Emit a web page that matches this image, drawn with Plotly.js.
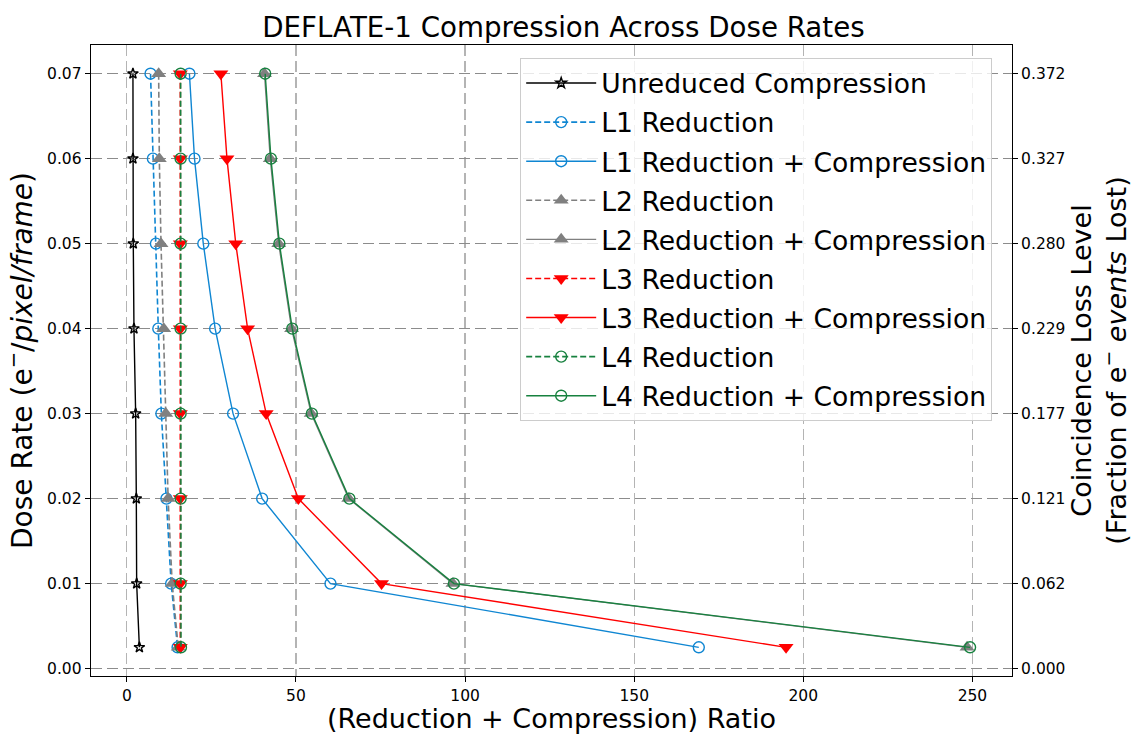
<!DOCTYPE html>
<html>
<head>
<meta charset="utf-8">
<script src="https://cdn.plot.ly/plotly-3.0.1.min.js"></script>
<style>
  html, body { margin: 0; padding: 0; background: #fff; }
  #chart { width: 1132px; height: 734px; }
</style>
</head>
<body>
<div id="chart"></div>
<script>
// Dose rates (e-/pixel/frame)
const doseRates = [0.07, 0.06, 0.05, 0.04, 0.03, 0.02, 0.01, 0.0025];

// Ratios for each scheme at each dose rate
const unreduced      = [1.8, 1.8, 1.9, 2.1, 2.6, 2.8, 2.9, 3.7];
const l1Reduction    = [7.0, 7.7, 8.6, 9.3, 10.2, 11.7, 13.1, 15.0];
const l1ReductionCmp = [18.5, 20.0, 22.6, 26.1, 31.4, 40.0, 60.2, 169.1];
const l2Reduction    = [9.4, 9.6, 10.1, 10.9, 11.5, 12.2, 13.4, 15.2];
const l2ReductionCmp = [40.7, 42.4, 44.9, 48.7, 54.5, 65.6, 96.4, 248.4];
const l3Reduction    = [15.8, 15.8, 15.8, 15.8, 15.8, 15.8, 15.8, 15.8];
const l3ReductionCmp = [27.8, 29.6, 32.2, 35.7, 41.2, 50.7, 75.3, 194.9];
const l4Reduction    = [15.9, 15.9, 15.9, 15.9, 15.9, 15.9, 15.9, 16.0];
const l4ReductionCmp = [40.9, 42.6, 45.1, 48.9, 54.7, 65.8, 96.7, 249.3];

// Left-axis ticks and the matching coincidence loss levels on the right
const doseTicks = [0.00, 0.01, 0.02, 0.03, 0.04, 0.05, 0.06, 0.07];
const doseTickLabels = ['0.00', '0.01', '0.02', '0.03', '0.04', '0.05', '0.06', '0.07'];
const lossTickLabels = ['0.000', '0.062', '0.121', '0.177', '0.229', '0.280', '0.327', '0.372'];
const ratioTicks = [0, 50, 100, 150, 200, 250];

const BLUE = '#0f86d2';
const GRAY = '#808080';
const RED = '#ff0000';
const GREEN = '#17813f';

function series(name, xs, color, dash, symbol, size, group) {
  const open = symbol.indexOf('open') >= 0;
  return {
    type: 'scatter', mode: 'lines+markers', name: name,
    x: xs, y: doseRates,
    legendgroup: group,
    line: { color: color, width: dash === 'solid' ? 1.4 : 1.6, dash: dash },
    // open symbols take their stroke colour from marker.color
    marker: {
      symbol: symbol, size: size, color: color,
      line: { color: color, width: open ? 1.4 : 0 }
    }
  };
}

const DASH = '6px,3px';
const traces = [
  series('Unreduced Compression', unreduced, '#000000', 'solid', 'star-open', 8, 'g1'),
  series('L1 Reduction', l1Reduction, BLUE, DASH, 'circle-open', 11, 'g2'),
  series('L1 Reduction + Compression', l1ReductionCmp, BLUE, 'solid', 'circle-open', 11, 'g3'),
  series('L2 Reduction', l2Reduction, GRAY, DASH, 'triangle-up', 13, 'g4'),
  series('L2 Reduction + Compression', l2ReductionCmp, GRAY, 'solid', 'triangle-up', 13, 'g5'),
  series('L3 Reduction', l3Reduction, RED, DASH, 'triangle-down', 13, 'g6'),
  series('L3 Reduction + Compression', l3ReductionCmp, RED, 'solid', 'triangle-down', 13, 'g7'),
  series('L4 Reduction', l4Reduction, GREEN, DASH, 'circle-open', 11, 'g8'),
  series('L4 Reduction + Compression', l4ReductionCmp, GREEN, 'solid', 'circle-open', 11, 'g9')
];

// Invisible companion trace so the right-hand axis is drawn
traces.push({
  type: 'scatter', mode: 'markers', x: [unreduced[0]], y: [doseRates[0]],
  yaxis: 'y2', showlegend: false, hoverinfo: 'skip',
  marker: { opacity: 0 }
});

const FONT = 'DejaVu Sans, sans-serif';
const yRange = [-0.000875, 0.073375];

const layout = {
  width: 1132, height: 734,
  paper_bgcolor: '#ffffff', plot_bgcolor: '#ffffff',
  font: { family: FONT, color: '#000' },
  margin: { l: 91, r: 120, t: 45, b: 58 },
  title: {
    text: 'DEFLATE-1 Compression Across Dose Rates',
    font: { family: FONT, size: 27.7, color: '#000' },
    xref: 'paper', x: 0.513, xanchor: 'center',
    yref: 'container', y: 0.963, yanchor: 'middle'
  },
  xaxis: {
    range: [-10.6, 261.7],
    tickvals: ratioTicks,
    ticks: 'outside', ticklen: 5, tickcolor: '#000',
    tickfont: { family: FONT, size: 15.5 },
    showline: true, linecolor: '#000', linewidth: 1.3, mirror: true,
    showgrid: true, gridcolor: '#b4b4b4', gridwidth: 1.2, griddash: '11px,5px',
    zeroline: false,
    title: { text: '(Reduction + Compression) Ratio', font: { family: FONT, size: 27 }, standoff: 6 }
  },
  yaxis: {
    range: yRange,
    tickvals: doseTicks, ticktext: doseTickLabels,
    ticks: 'outside', ticklen: 5, tickcolor: '#000',
    tickfont: { family: FONT, size: 15.5 },
    showline: true, linecolor: '#000', linewidth: 1.3, mirror: true,
    showgrid: true, gridcolor: '#8c8c8c', gridwidth: 1.2, griddash: '11px,5px',
    zeroline: false,
    title: { text: 'Dose Rate (e<sup>−</sup>/<i>pixel/frame</i>)', font: { family: FONT, size: 28 }, standoff: 6 }
  },
  yaxis2: {
    overlaying: 'y', side: 'right', anchor: 'x',
    range: yRange,
    tickvals: doseTicks, ticktext: lossTickLabels,
    ticks: 'outside', ticklen: 5, tickcolor: '#000',
    tickfont: { family: FONT, size: 15.5 },
    showgrid: false, zeroline: false, showline: false,
    title: {
      text: 'Coincidence Loss Level<br>(Fraction of e<sup>−</sup> <i>events</i> Lost)',
      font: { family: FONT, size: 27 }, standoff: 10
    }
  },
  legend: {
    x: 0.466, y: 0.979, xanchor: 'left', yanchor: 'top',
    bgcolor: 'rgba(255,255,255,0.8)', bordercolor: '#cccccc', borderwidth: 1,
    font: { family: FONT, size: 26.6, color: '#000' },
    itemwidth: 70,
    traceorder: 'grouped', tracegroupgap: 1.5
  },
  showlegend: true
};

Plotly.newPlot('chart', traces, layout, { displayModeBar: false, staticPlot: true });
</script>
</body>
</html>
